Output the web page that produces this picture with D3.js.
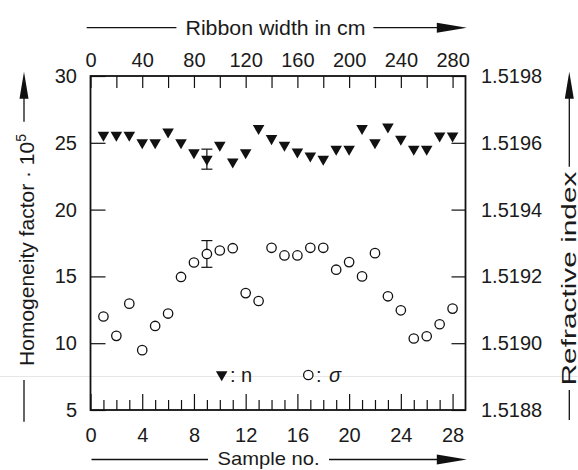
<!DOCTYPE html>
<html>
<head>
<meta charset="utf-8">
<script src="https://cdn.jsdelivr.net/npm/d3@7"></script>
<style>
  html, body { margin: 0; padding: 0; background: #fff; }
  svg { display: block; }
  text { font-family: "Liberation Sans", Arial, Helvetica, sans-serif; fill: #1a1a1a; }
</style>
</head>
<body>
<svg id="chart" width="578" height="470"></svg>
<script>
// ---------------- data ----------------
const samples = [1, 2, 3, 4, 5, 6, 7, 8, 9, 10, 11, 12, 13, 14, 15, 16, 17, 18, 19, 20, 21, 22, 23, 24, 25, 26, 27, 28];
// homogeneity factor sigma (x 10^5), left axis, open circles
const sigma = [12.0, 10.55, 12.96, 9.48, 11.29, 12.22, 14.96, 16.04, 16.68, 16.94, 17.11, 13.75, 13.16, 17.14,
               16.57, 16.57, 17.14, 17.14, 15.5, 16.07, 15.0, 16.74, 13.51, 12.46, 10.35, 10.52, 11.42, 12.59];
// refractive index n, right axis, filled triangles
const refrIndex = [1.519623, 1.519623, 1.519623, 1.519601, 1.519601, 1.519633, 1.519601, 1.519571, 1.519551,
                   1.519593, 1.519543, 1.519571, 1.519643, 1.519613, 1.519593, 1.519573, 1.519561, 1.519551,
                   1.519581, 1.519581, 1.519643, 1.519601, 1.519648, 1.519611, 1.519581, 1.519581, 1.519621, 1.519621];
// error bars (sample 9)
const errSample = [9];
const errSigma = [1.0];
const errRefr = [0.00003];

const bottomMajorTicks = [0, 4, 8, 12, 16, 20, 24, 28];
const bottomMinorTicks = [1, 2, 3, 5, 6, 7, 9, 10, 11, 13, 14, 15, 17, 18, 19, 21, 22, 23, 25, 26, 27];
const topTicks = [0, 20, 40, 60, 80, 100, 120, 140, 160, 180, 200, 220, 240, 260, 280];
const topLabels = [0, 40, 80, 120, 160, 200, 240, 280];
const leftTicks = [5, 10, 15, 20, 25, 30];
const rightTicks = [1.5188, 1.5190, 1.5192, 1.5194, 1.5196, 1.5198];

const titleTop = "Ribbon width in cm";
const titleBottom = "Sample no.";
const titleLeft = "Homogeneity factor · 10";
const titleRight = "Refractive index";

// ---------------- layout ----------------
const L = 90.5, R = 465.5, T = 76, B = 410;
const svg = d3.select("#chart");

const x = d3.scaleLinear().domain([0, 29]).range([L, R]);
const xTop = d3.scaleLinear().domain([0, 290]).range([L, R]);
const yL = d3.scaleLinear().domain([5, 30]).range([B, T]);
const yR = d3.scaleLinear().domain([1.5188, 1.5198]).range([B, T]);

// faint scan line
svg.append("line").attr("x1", 0).attr("x2", 578).attr("y1", 376.5).attr("y2", 376.5)
  .attr("stroke", "#e6e6e6").attr("stroke-width", 1);

const FS = 20;
function styleAxis(g) {
  g.select(".domain").remove();
  g.selectAll(".tick line").attr("stroke", "#111").attr("stroke-width", 1.2);
  g.selectAll(".tick text").style("font-size", FS + "px").attr("fill", "#1a1a1a");
}

// bottom axis major
svg.append("g").attr("transform", `translate(0,${B})`)
  .call(d3.axisBottom(x).tickValues(bottomMajorTicks).tickSizeInner(-16).tickSizeOuter(0).tickPadding(18).tickFormat(d3.format("d")))
  .call(styleAxis);
// bottom minor
svg.append("g").attr("transform", `translate(0,${B})`)
  .call(d3.axisBottom(x).tickValues(bottomMinorTicks).tickSizeInner(-10).tickSizeOuter(0).tickFormat(""))
  .call(styleAxis);
// top axis
svg.append("g").attr("transform", `translate(0,${T})`)
  .call(d3.axisTop(xTop).tickValues(topTicks).tickSizeInner(-12).tickSizeOuter(0).tickPadding(9)
    .tickFormat(d => topLabels.includes(d) ? String(d) : ""))
  .call(styleAxis);
// left axis
svg.append("g").attr("transform", `translate(${L},0)`)
  .call(d3.axisLeft(yL).tickValues(leftTicks).tickSizeInner(-15).tickSizeOuter(0).tickPadding(13.5).tickFormat(d3.format("d")))
  .call(styleAxis);
// right axis
svg.append("g").attr("transform", `translate(${R},0)`)
  .call(d3.axisRight(yR).tickValues(rightTicks).tickSizeInner(-14).tickSizeOuter(0).tickPadding(15.5).tickFormat(d3.format(".4f")))
  .call(styleAxis);

// frame
svg.append("rect").attr("x", L).attr("y", T).attr("width", R - L).attr("height", B - T)
  .attr("fill", "none").attr("stroke", "#111").attr("stroke-width", 1.8);

// ---------------- error bars ----------------
const capW = 5.5;
function errBar(cx, y1, y2) {
  const g = svg.append("g").attr("stroke", "#111").attr("stroke-width", 1.2);
  g.append("line").attr("x1", cx).attr("x2", cx).attr("y1", y1).attr("y2", y2);
  g.append("line").attr("x1", cx - capW).attr("x2", cx + capW).attr("y1", y1).attr("y2", y1);
  g.append("line").attr("x1", cx - capW).attr("x2", cx + capW).attr("y1", y2).attr("y2", y2);
}
errSample.forEach((s, i) => {
  const idx = samples.indexOf(s);
  errBar(x(s), yL(sigma[idx] + errSigma[i]), yL(sigma[idx] - errSigma[i]));
  errBar(x(s), yR(refrIndex[idx] + errRefr[i]), yR(refrIndex[idx] - errRefr[i]));
});

// ---------------- markers ----------------
const triSym = d3.symbol().type(d3.symbolTriangle).size(58);
const cirSym = d3.symbol().type(d3.symbolCircle).size(Math.PI * 4.7 * 4.7);

svg.append("g").selectAll("path").data(samples).join("path")
  .attr("d", cirSym)
  .attr("transform", (d, i) => `translate(${x(d)},${yL(sigma[i])})`)
  .attr("fill", "#fff").attr("stroke", "#111").attr("stroke-width", 1.3);

svg.append("g").selectAll("path").data(samples).join("path")
  .attr("d", triSym)
  .attr("transform", (d, i) => `translate(${x(d)},${yR(refrIndex[i])}) rotate(180)`)
  .attr("fill", "#111");

// ---------------- legend ----------------
svg.append("path").attr("d", triSym).attr("transform", "translate(221.7,374.5) rotate(180)").attr("fill", "#111");
svg.append("text").attr("x", 230).attr("y", 381.5).style("font-size", FS + "px").text(": n");
svg.append("path").attr("d", cirSym).attr("transform", "translate(308.3,375)")
  .attr("fill", "#fff").attr("stroke", "#111").attr("stroke-width", 1.3);
const lt = svg.append("text").attr("x", 316).attr("y", 381.5).style("font-size", FS + "px");
lt.append("tspan").text(":");
lt.append("tspan").attr("x", 329).style("font-style", "italic").text("σ");

// ---------------- titles with arrows ----------------
const TFS = 21;
function arrowH(x1, x2, y) { // pointing right, tip at x2
  svg.append("line").attr("x1", x1).attr("x2", x2 - 25).attr("y1", y).attr("y2", y).attr("stroke", "#111").attr("stroke-width", 1.3);
  svg.append("path").attr("d", `M${x2},${y} L${x2 - 30},${y - 5} L${x2 - 30},${y + 5} Z`).attr("fill", "#111");
}
function lineH(x1, x2, y) {
  svg.append("line").attr("x1", x1).attr("x2", x2).attr("y1", y).attr("y2", y).attr("stroke", "#111").attr("stroke-width", 1.3);
}
function arrowV(xx, y1, y2) { // pointing up, tip at y2
  svg.append("line").attr("x1", xx).attr("x2", xx).attr("y1", y1).attr("y2", y2 + 22).attr("stroke", "#111").attr("stroke-width", 1.3);
  svg.append("path").attr("d", `M${xx},${y2} L${xx - 4.5},${y2 + 27} L${xx + 4.5},${y2 + 27} Z`).attr("fill", "#111");
}
function lineV(xx, y1, y2) {
  svg.append("line").attr("x1", xx).attr("x2", xx).attr("y1", y1).attr("y2", y2).attr("stroke", "#111").attr("stroke-width", 1.3);
}

// top title
svg.append("text").attr("x", 275.5).attr("y", 35).attr("text-anchor", "middle")
  .attr("textLength", 180).attr("lengthAdjust", "spacingAndGlyphs")
  .style("font-size", TFS + "px").text(titleTop);
lineH(86.7, 176.4, 27.7);
arrowH(373.4, 466.8, 27.7);

// bottom title (kept inside the picture)
svg.append("text").attr("x", 268.5).attr("y", 465).attr("text-anchor", "middle")
  .attr("textLength", 102).attr("lengthAdjust", "spacingAndGlyphs")
  .style("font-size", "19px").text(titleBottom);
lineH(91.5, 208, 459.5);
arrowH(329, 466.8, 459.5);

// left title
const ltT = svg.append("text").attr("transform", "translate(34,250) rotate(-90)").attr("text-anchor", "middle")
  .style("font-size", TFS + "px");
ltT.append("tspan").text(titleLeft);
ltT.append("tspan").attr("dy", -8).style("font-size", "14px").text("5");
lineV(24, 380, 421.7);
arrowV(24, 121.7, 71.7);

// right title
svg.append("text").attr("transform", "translate(575.5,278.5) rotate(-90)").attr("text-anchor", "middle")
  .attr("textLength", 214).attr("lengthAdjust", "spacingAndGlyphs")
  .style("font-size", "20px").text(titleRight);
lineV(569.3, 390, 420);
arrowV(569.3, 166.7, 71.7);
</script>
</body>
</html>
